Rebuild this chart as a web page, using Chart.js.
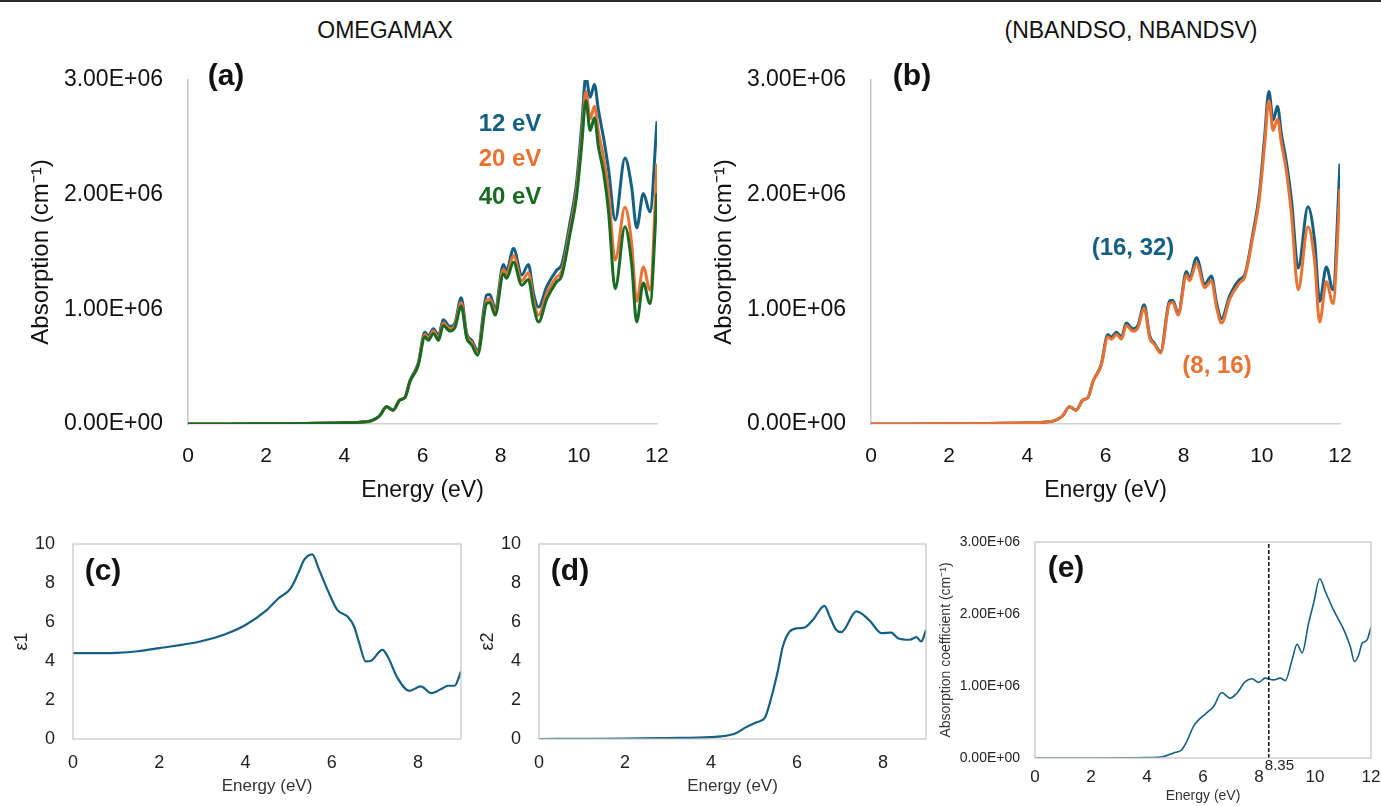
<!DOCTYPE html>
<html>
<head>
    <title>Absorption spectra</title>
    <script src="https://cdn.jsdelivr.net/npm/chart.js"></script>
    <style>
        body {
            margin: 0;
            width: 1381px;
            height: 806px;
            position: relative;
            overflow: hidden;
            background: #fff;
            font-family: 'Liberation Sans', Arial, sans-serif;
        }
        .topline { position: absolute; left: 0; top: 0; width: 1381px; height: 2px; background: #2b2b2b; }
        canvas { position: absolute; }
        .lbl { position: absolute; transform: translate(-50%, -50%); white-space: nowrap; line-height: 1; }
        .head { font-size: 23px; color: #111; }
        .tag { font-size: 30px; font-weight: bold; color: #111; }
        .note { font-size: 24px; font-weight: bold; }
    </style>
</head>
<body>
    <div class="topline"></div>
    <div class="lbl head" style="left:385px; top:30px">OMEGAMAX</div>
    <div class="lbl head" style="left:1131px; top:30px">(NBANDSO, NBANDSV)</div>

    <canvas id="chartA" width="682" height="460" style="left:0; top:60px"></canvas>
    <canvas id="chartB" width="682" height="460" style="left:683px; top:60px"></canvas>
    <canvas id="chartC" width="475" height="276" style="left:0; top:530px"></canvas>
    <canvas id="chartD" width="474" height="276" style="left:466px; top:530px"></canvas>
    <canvas id="chartE" width="449" height="278" style="left:932px; top:528px"></canvas>

    <div class="lbl tag" style="left:226px; top:75px">(a)</div>
    <div class="lbl tag" style="left:912px; top:75px">(b)</div>
    <div class="lbl tag" style="left:103px; top:570px">(c)</div>
    <div class="lbl tag" style="left:570px; top:570px">(d)</div>
    <div class="lbl tag" style="left:1066px; top:567px">(e)</div>

    <div class="lbl note" style="left:510px; top:123px; color:#156082">12 eV</div>
    <div class="lbl note" style="left:510px; top:158px; color:#E97132">20 eV</div>
    <div class="lbl note" style="left:510px; top:196px; color:#196B24">40 eV</div>
    <div class="lbl note" style="left:1133px; top:247px; color:#156082">(16, 32)</div>
    <div class="lbl note" style="left:1217px; top:365px; color:#E97132">(8, 16)</div>

    <script>
        // energies (eV) for panels (a) and (b)
        const energyAB = [0, 1, 2, 3, 4, 4.4, 4.7, 4.9, 5.08, 5.25, 5.42, 5.55, 5.68, 5.89, 6.06, 6.15, 6.28, 6.41, 6.53, 6.7, 6.83, 6.99,
            7.13, 7.26, 7.41, 7.64, 7.72, 7.86, 8.07, 8.15, 8.33, 8.54, 8.71, 8.84, 8.97, 9.18, 9.43, 9.56, 9.77, 9.94, 10.07, 10.18,
            10.29, 10.40, 10.50, 10.63, 10.76, 10.93, 11.18, 11.35, 11.48, 11.65, 11.82, 12.0];

        // absorption in units of 1E+06 cm^-1
        const omega12 = [0, 0, 0.002, 0.004, 0.01, 0.015, 0.03, 0.07, 0.15, 0.12, 0.21, 0.23, 0.38, 0.53, 0.80, 0.77, 0.83, 0.77, 0.91, 0.85, 0.88, 1.10,
            0.79, 0.73, 0.645, 1.125, 1.13, 1.01, 1.39, 1.34, 1.53, 1.30, 1.39, 1.14, 1.02, 1.20, 1.34, 1.39, 1.75, 2.10, 2.59, 3.03,
            2.85, 2.96, 2.74, 2.50, 2.22, 1.78, 2.32, 2.07, 1.71, 2.01, 1.85, 2.64];
        const omega20 = [0, 0, 0.002, 0.004, 0.01, 0.015, 0.03, 0.07, 0.15, 0.12, 0.21, 0.23, 0.37, 0.52, 0.78, 0.75, 0.81, 0.75, 0.88, 0.83, 0.86, 1.06,
            0.77, 0.71, 0.625, 1.08, 1.09, 0.98, 1.35, 1.30, 1.47, 1.25, 1.32, 1.08, 0.95, 1.14, 1.28, 1.33, 1.69, 2.03, 2.48, 2.90,
            2.66, 2.77, 2.55, 2.33, 2.02, 1.43, 1.89, 1.58, 1.07, 1.37, 1.17, 2.27];
        const omega40 = [0, 0, 0.002, 0.004, 0.01, 0.015, 0.03, 0.07, 0.15, 0.12, 0.21, 0.23, 0.37, 0.51, 0.76, 0.73, 0.79, 0.73, 0.86, 0.81, 0.84, 1.03,
            0.75, 0.69, 0.60, 1.05, 1.06, 0.95, 1.31, 1.27, 1.41, 1.21, 1.26, 1.03, 0.89, 1.09, 1.24, 1.29, 1.65, 1.98, 2.42, 2.82,
            2.56, 2.67, 2.42, 2.20, 1.85, 1.18, 1.72, 1.40, 0.89, 1.23, 1.05, 2.01];

        const bands16_32 = [0, 0, 0.002, 0.004, 0.01, 0.015, 0.03, 0.07, 0.15, 0.12, 0.21, 0.23, 0.37, 0.52, 0.78, 0.76, 0.80, 0.76, 0.88, 0.83, 0.86, 1.04,
            0.77, 0.70, 0.63, 1.075, 1.08, 0.965, 1.33, 1.27, 1.45, 1.22, 1.29, 1.06, 0.92, 1.12, 1.26, 1.30, 1.66, 2.02, 2.50, 2.90,
            2.65, 2.77, 2.53, 2.28, 1.95, 1.36, 1.895, 1.60, 1.07, 1.37, 1.17, 2.27];
        const bands8_16 = [0, 0, 0.002, 0.004, 0.01, 0.015, 0.03, 0.07, 0.15, 0.12, 0.21, 0.23, 0.37, 0.51, 0.76, 0.74, 0.78, 0.74, 0.86, 0.81, 0.84, 1.01,
            0.75, 0.69, 0.62, 1.05, 1.06, 0.95, 1.30, 1.25, 1.40, 1.19, 1.25, 1.02, 0.88, 1.09, 1.23, 1.28, 1.63, 1.97, 2.43, 2.82,
            2.56, 2.66, 2.45, 2.20, 1.82, 1.17, 1.72, 1.42, 0.89, 1.24, 1.05, 2.05];

        // dielectric function, panels (c) and (d)
        const energyEps1 = [0, 0.5, 1, 1.5, 2, 2.95, 3.5, 4.0, 4.5, 4.77, 5.05, 5.24, 5.36, 5.55, 5.71, 5.94, 6.13, 6.37, 6.52, 6.64, 6.79,
            6.91, 7.18, 7.30, 7.53, 7.80, 8.07, 8.31, 8.54, 8.70, 8.85, 9.0];
        const eps1 = [4.40, 4.40, 4.42, 4.50, 4.66, 5.0, 5.35, 5.85, 6.62, 7.22, 7.73, 8.58, 9.18, 9.47, 8.67, 7.47, 6.62, 6.28, 5.77, 4.91, 3.98,
            4.01, 4.57, 4.23, 3.12, 2.47, 2.70, 2.35, 2.56, 2.73, 2.73, 3.46];

        const energyEps2 = [0, 1, 2, 3, 4, 4.55, 4.82, 5.05, 5.25, 5.40, 5.56, 5.67, 5.83, 6.02, 6.18, 6.37, 6.64, 6.76, 6.91, 7.03, 7.38,
            7.69, 7.96, 8.19, 8.35, 8.62, 8.78, 8.89, 9.0];
        const eps2 = [0, 0.01, 0.02, 0.05, 0.1, 0.27, 0.61, 0.85, 1.08, 2.10, 3.55, 4.74, 5.51, 5.68, 5.72, 6.11, 6.83, 6.28, 5.60, 5.48, 6.54,
            6.07, 5.43, 5.46, 5.17, 5.09, 5.22, 5.0, 5.6];

        // absorption coefficient, panel (e), 1E+06 cm^-1
        const energyCoef = [0, 2, 4, 4.59, 4.95, 5.24, 5.42, 5.66, 5.90, 6.14, 6.38, 6.67, 6.97, 7.21, 7.51, 7.75, 7.99, 8.22, 8.52, 8.76, 8.94,
            9.18, 9.36, 9.54, 9.77, 9.95, 10.17, 10.37, 10.67, 11.03, 11.26, 11.41, 11.56, 11.68, 11.86, 12.0];
        const absCoef = [0, 0, 0.005, 0.02, 0.07, 0.115, 0.23, 0.44, 0.55, 0.63, 0.715, 0.91, 0.83, 0.90, 1.06, 1.10, 1.05, 1.11, 1.085, 1.11, 1.075,
            1.36, 1.58, 1.46, 1.87, 2.15, 2.49, 2.31, 2.05, 1.78, 1.55, 1.34, 1.43, 1.59, 1.64, 1.82];
        const markEnergy = 8.35;

        const BLUE = '#156082';
        const ORANGE = '#E97132';
        const GREEN = '#196B24';
        const FONT = "'Liberation Sans', Arial, sans-serif";

        Chart.defaults.font.family = FONT;
        Chart.defaults.color = '#111';

        function pts(xs, ys) {
            return xs.map((x, i) => ({ x: x, y: ys[i] }));
        }

        function sciLabel(v) {
            return v === 0 ? '0.00E+00' : v.toFixed(2) + 'E+06';
        }

        function curve(xs, ys, color, width, order) {
            return {
                data: pts(xs, ys),
                borderColor: color,
                borderWidth: width,
                pointRadius: 0,
                cubicInterpolationMode: 'monotone',
                order: order
            };
        }

        // fixed axis sizes, and no extra room for the end labels
        function fitX(h) {
            return s => { s.height = h; s.paddingLeft = 0; s.paddingRight = 0; };
        }
        function fitY(w) {
            return s => { s.width = w; s.paddingTop = 0; s.paddingBottom = 0; };
        }

        // draws a grey frame round the plot area
        const frame = {
            id: 'frame',
            afterDraw(chart, args, opts) {
                if (!opts.on) return;
                const a = chart.chartArea;
                const ctx = chart.ctx;
                ctx.save();
                ctx.strokeStyle = '#c4c4c4';
                ctx.lineWidth = 1.2;
                ctx.strokeRect(a.left, a.top, a.right - a.left, a.bottom - a.top);
                ctx.restore();
            }
        };

        // text under the dashed marker in (e)
        const markText = {
            id: 'markText',
            afterDraw(chart, args, opts) {
                if (!opts.text) return;
                const ctx = chart.ctx;
                const x = chart.scales.x.getPixelForValue(markEnergy);
                ctx.save();
                ctx.font = '15px ' + FONT;
                ctx.fillStyle = '#222';
                ctx.textAlign = 'left';
                ctx.textBaseline = 'middle';
                ctx.fillText(opts.text, x - 4, chart.chartArea.bottom + 8);
                ctx.restore();
            }
        };

        const noGrid = { display: false, drawTicks: false };

        function topChart(id, datasets) {
            new Chart(document.getElementById(id), {
                type: 'line',
                data: { datasets: datasets },
                plugins: [frame, markText],
                options: {
                    responsive: false,
                    animation: false,
                    layout: { padding: { top: 20, right: 25, bottom: 0, left: 0 } },
                    plugins: { legend: { display: false }, tooltip: { enabled: false }, frame: { on: false }, markText: {} },
                    scales: {
                        x: {
                            type: 'linear', min: 0, max: 12,
                            grid: noGrid,
                            border: { display: true, color: '#cfcfcf', width: 1.5 },
                            ticks: { stepSize: 2, padding: 20, font: { size: 21 }, color: '#111' },
                            title: { display: true, text: 'Energy (eV)', font: { size: 23 }, padding: { top: 0, bottom: 16 } },
                            afterFit: fitX(96)
                        },
                        y: {
                            min: 0, max: 3,
                            grid: noGrid,
                            border: { display: true, color: '#c4c4c4', width: 1.5 },
                            ticks: { stepSize: 1, padding: 25, font: { size: 23 }, color: '#111', callback: sciLabel },
                            title: { display: true, text: 'Absorption (cm⁻¹)', font: { size: 24 }, padding: { top: 27, bottom: 0 } },
                            afterFit: fitY(188)
                        }
                    }
                }
            });
        }

        topChart('chartA', [
            curve(energyAB, omega12, BLUE, 3, 3),
            curve(energyAB, omega20, ORANGE, 3, 2),
            curve(energyAB, omega40, GREEN, 3, 1)
        ]);

        topChart('chartB', [
            curve(energyAB, bands16_32, BLUE, 3, 2),
            curve(energyAB, bands8_16, ORANGE, 3, 1)
        ]);

        function epsChart(id, xs, ys, yTitle) {
            new Chart(document.getElementById(id), {
                type: 'line',
                data: { datasets: [curve(xs, ys, BLUE, 2.2, 1)] },
                plugins: [frame],
                options: {
                    responsive: false,
                    animation: false,
                    layout: { padding: { top: 14, right: 14, bottom: 0, left: 0 } },
                    plugins: { legend: { display: false }, tooltip: { enabled: false }, frame: { on: true } },
                    scales: {
                        x: {
                            type: 'linear', min: 0, max: 9,
                            grid: noGrid,
                            border: { display: false },
                            ticks: { stepSize: 2, includeBounds: false, padding: 13, font: { size: 18 }, color: '#222' },
                            title: { display: true, text: 'Energy (eV)', font: { size: 17 }, color: '#333', padding: { top: 0, bottom: 9 } },
                            afterFit: fitX(67)
                        },
                        y: {
                            min: 0, max: 10,
                            grid: noGrid,
                            border: { display: false },
                            ticks: { stepSize: 2, padding: 18, font: { size: 18 }, color: '#222' },
                            title: { display: true, text: yTitle, font: { size: 18 }, color: '#222', padding: { top: 11, bottom: 0 } },
                            afterFit: fitY(73)
                        }
                    }
                }
            });
        }

        epsChart('chartC', energyEps1, eps1, 'ε1');
        epsChart('chartD', energyEps2, eps2, 'ε2');

        new Chart(document.getElementById('chartE'), {
            type: 'line',
            data: {
                datasets: [
                    curve(energyCoef, absCoef, BLUE, 1.6, 2),
                    {
                        data: [{ x: markEnergy, y: 0 }, { x: markEnergy, y: 3 }],
                        borderColor: '#111',
                        borderWidth: 1.5,
                        borderDash: [4, 2],
                        pointRadius: 0,
                        order: 1
                    }
                ]
            },
            plugins: [frame, markText],
            options: {
                responsive: false,
                animation: false,
                layout: { padding: { top: 14, right: 10, bottom: 0, left: 0 } },
                plugins: { legend: { display: false }, tooltip: { enabled: false }, frame: { on: true }, markText: { text: String(markEnergy) } },
                scales: {
                    x: {
                        type: 'linear', min: 0, max: 12,
                        grid: noGrid,
                        border: { display: false },
                        ticks: { stepSize: 2, padding: 9, font: { size: 17 }, color: '#222' },
                        title: { display: true, text: 'Energy (eV)', font: { size: 14 }, color: '#333', padding: { top: 0, bottom: 1 } },
                        afterFit: fitX(48)
                    },
                    y: {
                        min: 0, max: 3,
                        grid: noGrid,
                        border: { display: false },
                        ticks: { stepSize: 1, padding: 15, font: { size: 14 }, color: '#222', callback: sciLabel },
                        title: { display: true, text: 'Absorption coefficient (cm⁻¹)', font: { size: 14 }, color: '#333', padding: { top: 6, bottom: 0 } },
                        afterFit: fitY(103)
                    }
                }
            }
        });
    </script>
</body>
</html>
